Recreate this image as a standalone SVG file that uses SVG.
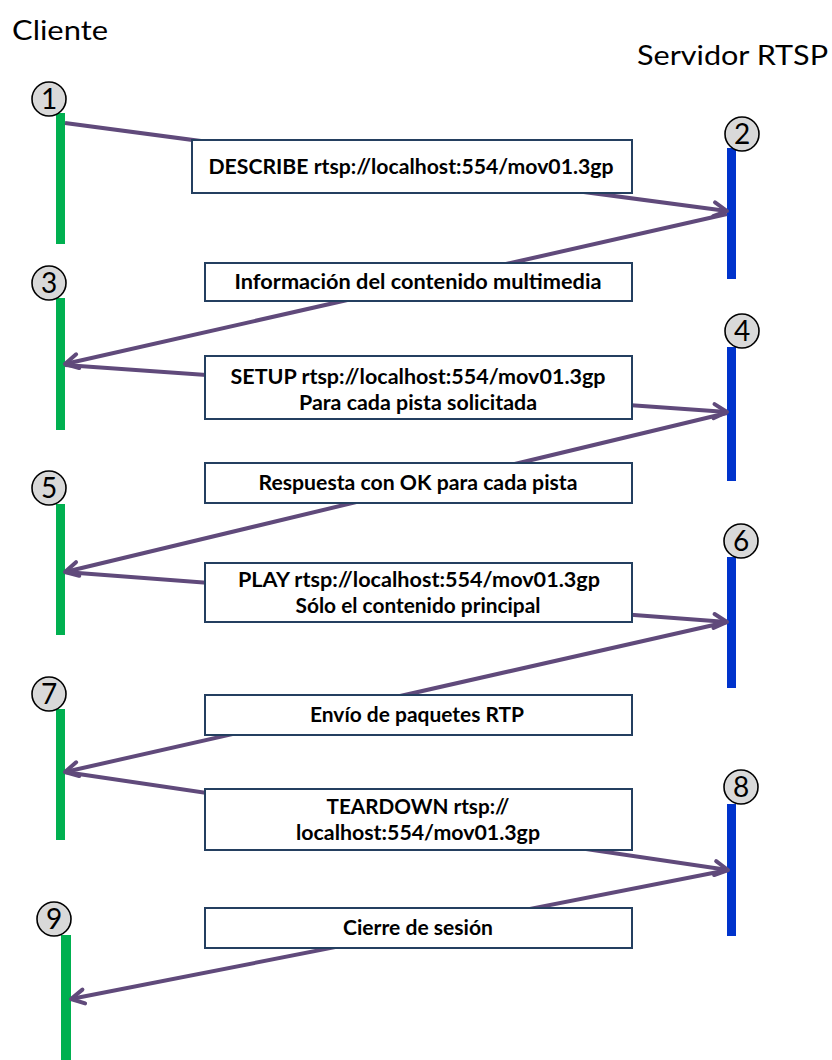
<svg xmlns="http://www.w3.org/2000/svg" width="832" height="1060" viewBox="0 0 832 1060">
  <style>
    .title { font-family: Lato, "Open Sans", "Liberation Sans", sans-serif; font-size: 27px; fill: #000; }
    .num { font-family: Lato, "Open Sans", "Liberation Sans", sans-serif; font-size: 28px; fill: #000; text-anchor: middle; }
    .badge { fill: #D9D9D9; stroke: #000; stroke-width: 1.6; }
    .client { fill: #00B050; }
    .server { fill: #0033CC; }
    .msg { fill: #FFFFFF; stroke: #243F60; stroke-width: 2; }
    .lbl { font-family: Lato, "Open Sans", "Liberation Sans", sans-serif; font-size: 20px; font-weight: 700; fill: #000; text-anchor: middle; }
    .flow { stroke: #604A7B; stroke-width: 4; fill: none; marker-end: url(#head); }
  </style>
  <defs>
    <marker id="head" markerUnits="userSpaceOnUse" viewBox="0 0 20 20" markerWidth="20" markerHeight="20" refX="17" refY="10" orient="auto">
      <path d="M4,3 L17,10 L4,17" fill="none" stroke="#604A7B" stroke-width="4" stroke-linecap="round" stroke-linejoin="round"/>
    </marker>
  </defs>

  <rect width="832" height="1060" fill="#FFFFFF"/>

  <text class="title" x="12" y="40" textLength="96" lengthAdjust="spacingAndGlyphs">Cliente</text>
  <text class="title" x="637" y="65" textLength="191" lengthAdjust="spacingAndGlyphs">Servidor RTSP</text>

  <!-- client-side steps -->
  <g id="step1">
    <rect class="client" x="56" y="113" width="9" height="131"/>
    <circle class="badge" cx="49" cy="99" r="17"/>
    <text class="num" x="49" y="109">1</text>
  </g>
  <g id="step3">
    <rect class="client" x="56" y="298" width="9" height="132"/>
    <circle class="badge" cx="49" cy="283" r="17"/>
    <text class="num" x="49" y="293">3</text>
  </g>
  <g id="step5">
    <rect class="client" x="56" y="504" width="9" height="131"/>
    <circle class="badge" cx="49" cy="488" r="17"/>
    <text class="num" x="49" y="498">5</text>
  </g>
  <g id="step7">
    <rect class="client" x="56" y="709" width="9" height="131"/>
    <circle class="badge" cx="49" cy="694" r="17"/>
    <text class="num" x="49" y="704">7</text>
  </g>
  <g id="step9">
    <rect class="client" x="61" y="935" width="10" height="125"/>
    <circle class="badge" cx="54" cy="919" r="17"/>
    <text class="num" x="54" y="929">9</text>
  </g>

  <!-- server-side steps -->
  <g id="step2">
    <rect class="server" x="727" y="148" width="9" height="131"/>
    <circle class="badge" cx="742" cy="134" r="17"/>
    <text class="num" x="742" y="144">2</text>
  </g>
  <g id="step4">
    <rect class="server" x="727" y="347" width="9" height="134"/>
    <circle class="badge" cx="742" cy="331" r="17"/>
    <text class="num" x="742" y="341">4</text>
  </g>
  <g id="step6">
    <rect class="server" x="727" y="557" width="9" height="131"/>
    <circle class="badge" cx="741" cy="541" r="17"/>
    <text class="num" x="741" y="551">6</text>
  </g>
  <g id="step8">
    <rect class="server" x="727" y="804" width="9" height="132"/>
    <circle class="badge" cx="741" cy="787" r="17"/>
    <text class="num" x="741" y="797">8</text>
  </g>

  <!-- message flows -->
  <g id="connectors">
    <line class="flow" x1="65" y1="123" x2="727" y2="211"/>
    <line class="flow" x1="727" y1="214" x2="65" y2="364"/>
    <line class="flow" x1="65" y1="365" x2="727" y2="412"/>
    <line class="flow" x1="727" y1="413" x2="65" y2="572"/>
    <line class="flow" x1="65" y1="572" x2="727" y2="622"/>
    <line class="flow" x1="727" y1="622" x2="65" y2="772"/>
    <line class="flow" x1="65" y1="772" x2="728" y2="870"/>
    <line class="flow" x1="728" y1="870" x2="71" y2="999"/>
  </g>

  <!-- message labels -->
  <g id="describe">
    <rect class="msg" x="192" y="140" width="440" height="53"/>
    <text class="lbl" x="411" y="174" textLength="405" lengthAdjust="spacingAndGlyphs">DESCRIBE rtsp://localhost:554/mov01.3gp</text>
  </g>
  <g id="describe-reply">
    <rect class="msg" x="205" y="263" width="427" height="38"/>
    <text class="lbl" x="418" y="289" textLength="367" lengthAdjust="spacingAndGlyphs">Información del contenido multimedia</text>
  </g>
  <g id="setup">
    <rect class="msg" x="205" y="356" width="427" height="63"/>
    <text class="lbl" x="418" y="384" textLength="375" lengthAdjust="spacingAndGlyphs">SETUP rtsp://localhost:554/mov01.3gp</text>
    <text class="lbl" x="418" y="410" textLength="238" lengthAdjust="spacingAndGlyphs">Para cada pista solicitada</text>
  </g>
  <g id="setup-reply">
    <rect class="msg" x="205" y="463" width="427" height="40"/>
    <text class="lbl" x="418" y="490" textLength="319" lengthAdjust="spacingAndGlyphs">Respuesta con OK para cada pista</text>
  </g>
  <g id="play">
    <rect class="msg" x="205" y="563" width="427" height="59"/>
    <text class="lbl" x="419" y="587" textLength="362" lengthAdjust="spacingAndGlyphs">PLAY rtsp://localhost:554/mov01.3gp</text>
    <text class="lbl" x="418" y="613" textLength="245" lengthAdjust="spacingAndGlyphs">Sólo el contenido principal</text>
  </g>
  <g id="rtp">
    <rect class="msg" x="205" y="695" width="427" height="40"/>
    <text class="lbl" x="417" y="722" textLength="214" lengthAdjust="spacingAndGlyphs">Envío de paquetes RTP</text>
  </g>
  <g id="teardown">
    <rect class="msg" x="205" y="789" width="427" height="61"/>
    <text class="lbl" x="418" y="814" textLength="183" lengthAdjust="spacingAndGlyphs">TEARDOWN rtsp://</text>
    <text class="lbl" x="418" y="840" textLength="244" lengthAdjust="spacingAndGlyphs">localhost:554/mov01.3gp</text>
  </g>
  <g id="close">
    <rect class="msg" x="205" y="908" width="427" height="40"/>
    <text class="lbl" x="418" y="935" textLength="150" lengthAdjust="spacingAndGlyphs">Cierre de sesión</text>
  </g>
</svg>
